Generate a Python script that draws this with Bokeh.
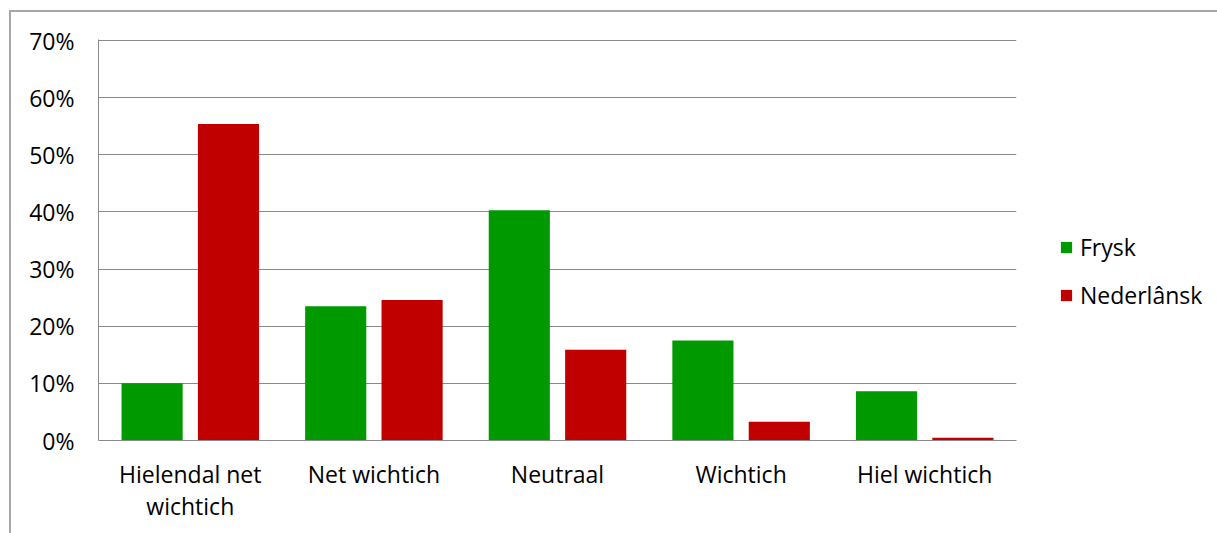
from bokeh.plotting import figure
from bokeh.models import (FixedTicker, NumeralTickFormatter, Range1d, Legend,
                          LegendItem, ColumnDataSource)
from bokeh.transform import dodge
from bokeh.embed import file_html
from bokeh.resources import INLINE

# Survey answers: how important is each language
categories = ["Hielendal net\nwichtich", "Net wichtich", "Neutraal", "Wichtich", "Hiel wichtich"]
frysk = [0.100, 0.235, 0.403, 0.175, 0.086]
nederlansk = [0.554, 0.246, 0.159, 0.033, 0.005]
y_ticks = [0.0, 0.1, 0.2, 0.3, 0.4, 0.5, 0.6, 0.7]

GREEN = "#009900"
RED = "#c00000"
GRID = "#8a8a8a"
FONT = "Open Sans"
FS = "23px"

positions = list(range(len(categories)))
src = ColumnDataSource(dict(x=positions, frysk=frysk, nederlansk=nederlansk))

# a hair of headroom so the 70% gridline is not clipped by the frame edge
p = figure(frame_width=918, frame_height=401,
           min_border_left=87, min_border_top=27, min_border_bottom=100,
           min_border_right=190,
           x_range=Range1d(-0.5, len(categories) - 0.5),
           y_range=Range1d(0, 0.7 * 401 / 400),
           output_backend="svg", toolbar_location=None)

p.styles = {"margin-left": "9px", "margin-top": "10px",
            "border-left": "2px solid #a6a6a6", "border-top": "2px solid #a6a6a6"}

bw = 0.333
r1 = p.vbar(x=dodge("x", -0.208, range=p.x_range), top="frysk", width=bw,
            source=src, fill_color=GREEN, line_color=None)
r2 = p.vbar(x=dodge("x", 0.208, range=p.x_range), top="nederlansk", width=bw,
            source=src, fill_color=RED, line_color=None)

p.outline_line_color = None
p.background_fill_color = "white"
p.border_fill_color = "white"

p.xgrid.grid_line_color = None
p.ygrid.grid_line_color = GRID
p.ygrid.grid_line_width = 1
p.ygrid.ticker = FixedTicker(ticks=y_ticks)

p.yaxis.ticker = FixedTicker(ticks=y_ticks)
p.yaxis.formatter = NumeralTickFormatter(format="0%")
p.xaxis.ticker = FixedTicker(ticks=positions)
p.xaxis.major_label_overrides = {i: c for i, c in enumerate(categories)}

for ax in (p.xaxis[0], p.yaxis[0]):
    ax.axis_line_color = GRID
    ax.axis_line_width = 1
    ax.major_tick_line_color = None
    ax.minor_tick_line_color = None
    ax.major_tick_out = 0
    ax.major_label_text_font = FONT
    ax.major_label_text_font_size = FS
    ax.major_label_text_color = "#000000"

p.yaxis.major_label_standoff = 24
p.xaxis.major_label_standoff = 17
p.xaxis.major_label_text_line_height = 1.0

legend = Legend(items=[LegendItem(label="Frysk", renderers=[r1]),
                       LegendItem(label="Nederlânsk", renderers=[r2])],
                location=(43, 129))
legend.border_line_color = None
legend.background_fill_alpha = 0
legend.padding = 0
legend.margin = 0
legend.glyph_width = 14
legend.glyph_height = 14
legend.label_height = 22
legend.spacing = 16
legend.label_standoff = 7
legend.label_text_font = FONT
legend.label_text_font_size = FS
legend.label_text_color = "#000000"
p.add_layout(legend, "right")

open("out.html", "w").write(file_html(p, INLINE))
